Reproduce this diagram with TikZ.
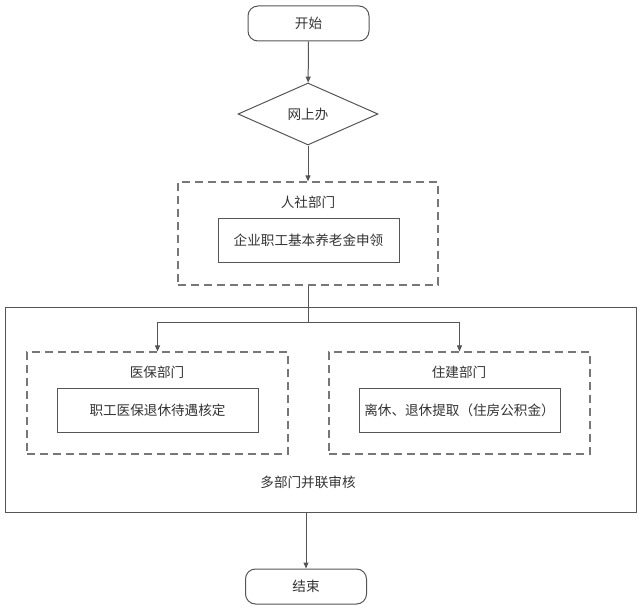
\documentclass[tikz,border=0pt]{standalone}
\usepackage{fontspec}
\setmainfont{Noto Sans CJK SC}
\usetikzlibrary{shapes.geometric,arrows.meta}
\definecolor{ln}{HTML}{555555}
\definecolor{dl}{HTML}{777777}
\definecolor{tx}{HTML}{333333}
\tikzset{
  base/.style={draw=ln, line width=1pt, text=tx, font=\fontsize{13.6}{15}\selectfont, inner sep=0pt},
  term/.style={base, rounded corners=10pt},
  proc/.style={base},
  dec/.style={base, diamond, aspect=2.26},
  grp/.style={draw=dl, line width=1.2pt, dash pattern=on 8pt off 5pt, inner sep=0pt},
  outer/.style={draw=ln, line width=1pt, inner sep=0pt},
  lbl/.style={text=tx, font=\fontsize{13.6}{15}\selectfont, inner sep=0pt},
  conn/.style={draw=ln, line width=1pt, -{Triangle[length=6pt,width=5pt]}},
  plain/.style={draw=ln, line width=1pt}
}
\begin{document}
\begin{tikzpicture}[x=1pt,y=-1pt]
\useasboundingbox (0,0) rectangle (643,615);
% outer parallel box
\node[outer, minimum width=631pt, minimum height=205pt] (big) at (320.5,409.5) {};
\node[lbl] (bigl) at (308,482) {多部门并联审核};
% start
\node[term, minimum width=121pt, minimum height=35pt] (start) at (308.5,23.5) {开始};
\node[dec, minimum width=140pt, minimum height=62pt] (web) at (308,114) {};
\node[lbl] (webl) at (308,114) {网上办};
% renshe
\node[grp, minimum width=260pt, minimum height=103pt] (rs) at (308,233.5) {};
\node[lbl] (rsl) at (308,202) {人社部门};
\node[proc, minimum width=181pt, minimum height=44pt] (rsp) at (308.5,240) {企业职工基本养老金申领};
% yibao
\node[grp, minimum width=261pt, minimum height=102pt] (yb) at (157.5,403) {};
\node[lbl] (ybl) at (157,372) {医保部门};
\node[proc, minimum width=201pt, minimum height=44pt] (ybp) at (157.5,410) {职工医保退休待遇核定};
% zhujian
\node[grp, minimum width=261pt, minimum height=102pt] (zj) at (459.5,403) {};
\node[lbl] (zjl) at (459,372) {住建部门};
\node[proc, minimum width=201pt, minimum height=44pt] (zjp) at (459.5,410) {离休、退休提取（住房公积金）};
% end
\node[term, minimum width=121pt, minimum height=35pt] (end) at (306,586.5) {结束};
% connectors
\coordinate (br) at (308,322);
\draw[conn] (start) -- (web);
\draw[conn] (web) -- (rs);
\draw[plain] (rs.south) -- (br);
\draw[conn] (br) -| (yb.north);
\draw[conn] (br) -| (zj.north);
\draw[conn] (big.south -| end.north) -- (end.north);
\end{tikzpicture}
\end{document}
